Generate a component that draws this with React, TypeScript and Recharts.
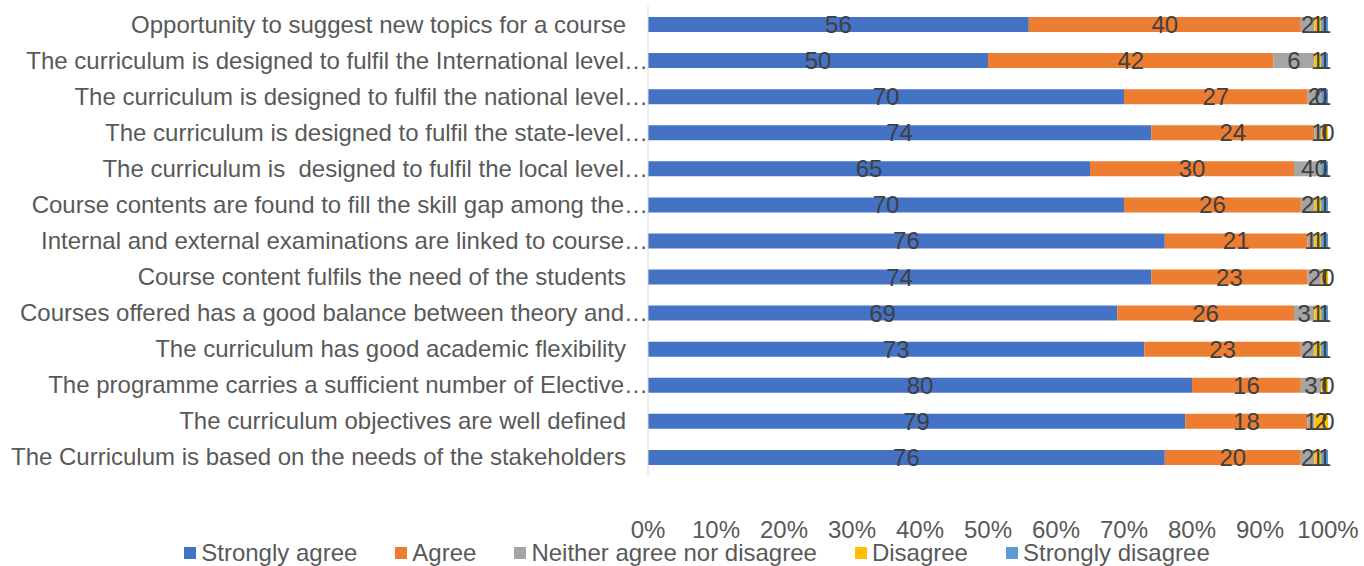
import React from "react";
import { BarChart, Bar, XAxis, YAxis, Legend, LabelList } from "recharts";

const categories = [
  "Opportunity to suggest new topics for a course",
  "The curriculum is designed to fulfil the International level…",
  "The curriculum is designed to fulfil the national level…",
  "The curriculum is designed to fulfil the state-level…",
  "The curriculum is  designed to fulfil the local level…",
  "Course contents are found to fill the skill gap among the…",
  "Internal and external examinations are linked to course…",
  "Course content fulfils the need of the students",
  "Courses offered has a good balance between theory and…",
  "The curriculum has good academic flexibility",
  "The programme carries a sufficient number of Elective…",
  "The curriculum objectives are well defined",
  "The Curriculum is based on the needs of the stakeholders",
];

const stronglyAgree = [56, 50, 70, 74, 65, 70, 76, 74, 69, 73, 80, 79, 76];
const agree = [40, 42, 27, 24, 30, 26, 21, 23, 26, 23, 16, 18, 20];
const neither = [2, 6, 2, 1, 4, 2, 1, 2, 3, 2, 3, 1, 2];
const disagree = [1, 1, 0, 1, 0, 1, 1, 1, 1, 1, 1, 2, 1];
const stronglyDisagree = [1, 1, 1, 0, 1, 1, 1, 0, 1, 1, 0, 0, 1];

const percentTicks = [0, 0.1, 0.2, 0.3, 0.4, 0.5, 0.6, 0.7, 0.8, 0.9, 1];

const series = [
  { key: "sa", name: "Strongly agree", color: "#4472C4" },
  { key: "a", name: "Agree", color: "#ED7D31" },
  { key: "n", name: "Neither agree nor disagree", color: "#A5A5A5" },
  { key: "d", name: "Disagree", color: "#FFC000" },
  { key: "sd", name: "Strongly disagree", color: "#5B9BD5" },
];

const data = categories.map((name, i) => ({
  name,
  sa: stronglyAgree[i],
  a: agree[i],
  n: neither[i],
  d: disagree[i],
  sd: stronglyDisagree[i],
}));

const font = "'Liberation Sans', Arial, sans-serif";

const labelText = (x: number, y: number, v: any, k: string) => (
  <text
    key={k}
    x={x}
    y={y}
    textAnchor="middle"
    dominantBaseline="central"
    fill="#404040"
    fontSize={24}
    fontFamily={font}
  >
    {v}
  </text>
);

// recharts drops zero-width segments, so the segment on their left
// also writes the "0" at its right edge
const makeLabel = (key: string, nextKey?: string) => (props: any) => {
  const vb = props.viewBox || props;
  const row = props.value;
  if (!row) return null;
  const x = Number(vb.x);
  const y = Number(vb.y) + Number(vb.height) / 2;
  const w = Number(vb.width);
  return (
    <g>
      {labelText(x + w / 2, y, row[key], "own")}
      {nextKey && row[nextKey] === 0 ? labelText(x + w, y, 0, "zero") : null}
    </g>
  );
};

// excel lets the truncated names run up to the axis
const CategoryTick = (props: any) => {
  const { x, y, payload } = props;
  const label = String(payload.value);
  const shift = label.endsWith("…") ? 22 : 0;
  return (
    <text
      x={x + shift}
      y={y}
      textAnchor="end"
      dominantBaseline="central"
      fill="#595959"
      fontSize={24}
      fontFamily={font}
      style={{ whiteSpace: "pre" }}
    >
      {label}
    </text>
  );
};

const renderLegend = () => (
  <div
    style={{
      display: "flex",
      justifyContent: "center",
      paddingLeft: 68,
      fontSize: 24,
      fontFamily: font,
      color: "#595959",
      whiteSpace: "nowrap",
    }}
  >
    {series.map((s) => (
      <span key={s.key} style={{ display: "inline-flex", alignItems: "center", marginRight: 38 }}>
        <span
          style={{
            display: "inline-block",
            width: 12,
            height: 12,
            background: s.color,
            marginRight: 5,
          }}
        />
        {s.name}
      </span>
    ))}
  </div>
);

export default function App() {
  return (
    <div style={{ position: "absolute", left: 0, top: 0, fontFamily: font }}>
      <BarChart
        width={1364}
        height={566}
        data={data}
        layout="vertical"
        stackOffset="expand"
        barSize={15}
        margin={{ top: 6, right: 36, bottom: 0, left: 0 }}
      >
        <XAxis
          type="number"
          domain={[0, 1]}
          ticks={percentTicks}
          tickFormatter={(v: number) => `${Math.round(v * 100)}%`}
          axisLine={false}
          tickLine={false}
          tickSize={0}
          tickMargin={46}
          height={55}
          tick={{ fill: "#595959", fontSize: 24, fontFamily: font }}
          interval={0}
        />
        <YAxis
          type="category"
          dataKey="name"
          width={648}
          axisLine={{ stroke: "#D9D9D9" }}
          tickLine={false}
          tickSize={0}
          tickMargin={22}
          interval={0}
          tick={<CategoryTick />}
        />
        <Legend
          verticalAlign="bottom"
          height={36}
          content={renderLegend}
          wrapperStyle={{ top: 539, left: 0, width: 1364 }}
        />
        {series.map((s, i) => (
          <Bar
            key={s.key}
            dataKey={s.key}
            name={s.name}
            stackId="total"
            fill={s.color}
            isAnimationActive={false}
          >
            <LabelList
              valueAccessor={(entry: any) => entry.payload}
              content={makeLabel(s.key, series[i + 1] ? series[i + 1].key : undefined)}
            />
          </Bar>
        ))}
      </BarChart>
    </div>
  );
}
